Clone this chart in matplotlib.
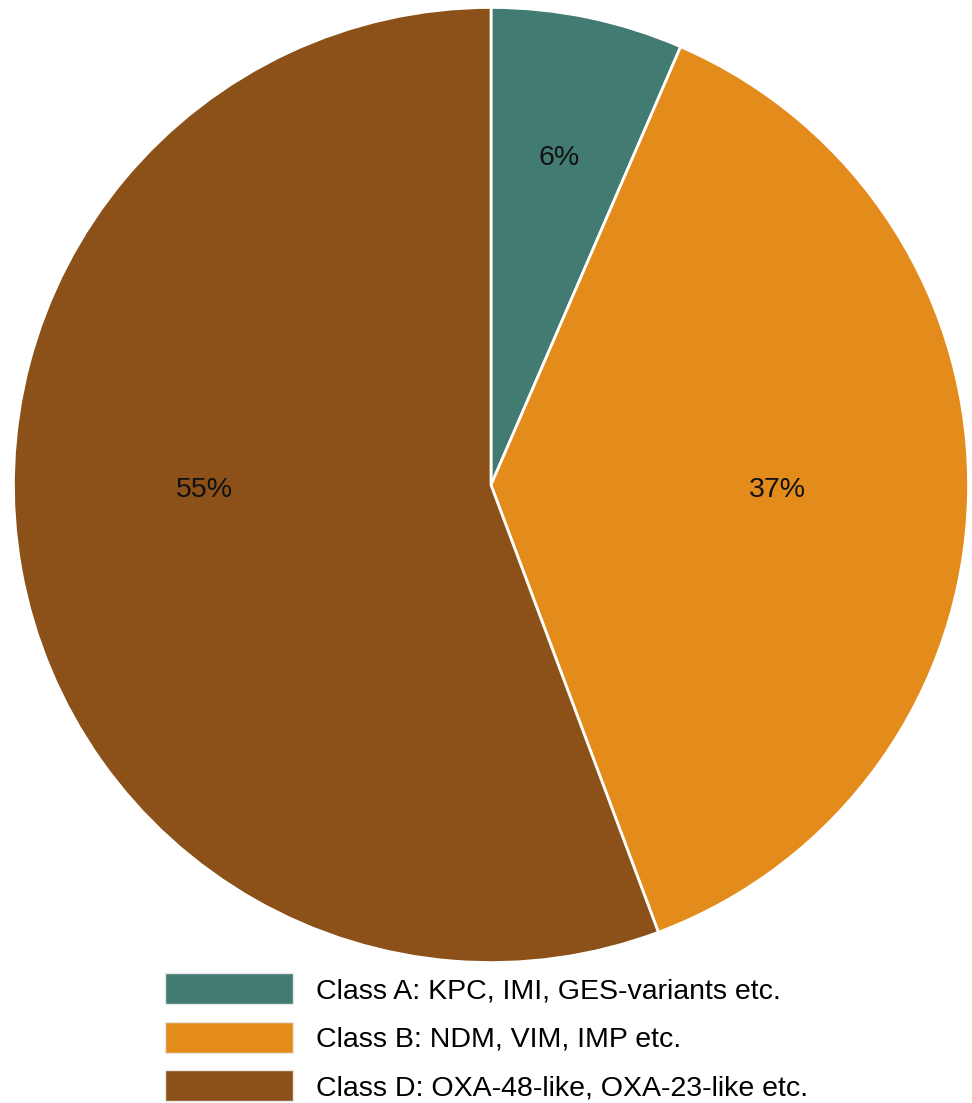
import numpy as np
import matplotlib.pyplot as plt
from matplotlib.patches import Patch

plt.rcParams['font.family'] = ['Liberation Sans', 'DejaVu Sans']

classes = ['Class A: KPC, IMI, GES-variants etc.',
           'Class B: NDM, VIM, IMP etc.',
           'Class D: OXA-48-like, OXA-23-like etc.']
shares = [6.5, 37.8, 55.7]
colors = ['#417B72', '#E48C1B', '#8B5118']

W, H = 972, 1103
fig = plt.figure(figsize=(W / 100, H / 100), dpi=100)

# pie centre and radius in pixels
cx, cy, r = 491, 485, 479
ax = fig.add_axes([(cx - r) / W, 1 - (cy + r) / H, 2 * r / W, 2 * r / H])

wedges, texts, autotexts = ax.pie(
    shares, colors=colors, startangle=90, counterclock=False,
    autopct=lambda p: f'{int(p)}%', pctdistance=0.6,
    wedgeprops=dict(edgecolor='white', linewidth=2),
    textprops=dict(fontsize=20.5, color='#111111'))
ax.set_xlim(-1.003, 1.003)
ax.set_ylim(-1.003, 1.003)

# label placement as in the original chart
w0 = wedges[0]
ang = np.deg2rad((w0.theta1 + w0.theta2) / 2)
autotexts[0].set_position((0.7 * np.cos(ang), 0.7 * np.sin(ang)))
autotexts[1].set_position((0.6, -0.01))
autotexts[2].set_position((-0.6, -0.01))

handles = [Patch(facecolor=c, edgecolor='#e8e8e8', linewidth=1) for c in colors]
fig.legend(handles, classes, loc='upper left',
           bbox_to_anchor=(165 / W, 1 - 973 / H), frameon=False,
           fontsize=20.5, handlelength=4.5, handleheight=1.3,
           handletextpad=0.8, labelspacing=0.62, borderpad=0, borderaxespad=0)

fig.savefig('out.png', dpi=100)
